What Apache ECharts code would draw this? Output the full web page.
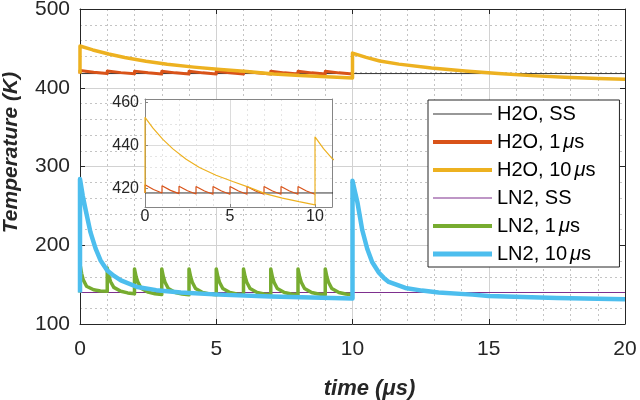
<!DOCTYPE html>
<html><head><meta charset="utf-8">
<script src="https://cdn.jsdelivr.net/npm/echarts@6/dist/echarts.min.js"></script>
<style>html,body{margin:0;padding:0;background:#fff}#c{width:640px;height:400px}</style>
</head><body><div id="c"></div>
<script>
// ---- tick labels ----
const mainXTicks = [0, 5, 10, 15, 20];
const mainYTicks = [100, 200, 300, 400, 500];
const insetXTicks = [0, 5, 10];
const insetYTicks = [420, 440, 460];
const insetXRange = [0, 11];
const insetYRange = [411.5, 461.5];
const insetYMinor = [415, 425, 430, 435, 445, 450, 455];

// ---- series names ----
const names = ['H2O, SS', 'H2O, 1μs', 'H2O, 10μs', 'LN2, SS', 'LN2, 1μs', 'LN2, 10μs'];

// ---- series values (time in μs, temperature in K) ----
const h2oSS_t = [0, 20];
const h2oSS_T = [418, 418];

const h2o1_t = [0,0,0.5,1, 1,1.5,2, 2,2.5,3, 3,3.5,4, 4,4.5,5, 5,5.5,6, 6,6.5,7, 7,7.5,8, 8,8.5,9, 9,9.5,10];
const h2o1_T = [418,421.8,419.6,418, 421.3,419.2,417.7, 421.1,419,417.5, 421,418.9,417.4, 421,418.9,417.4, 421,418.9,417.4, 421,418.9,417.4, 421,418.9,417.4, 421,418.9,417.4, 421,418.9,417.4];

const h2o10_t = [0,0,0.47,1.05,1.64,2.42,3.2,4.18,5.16,6.13,7.11,8.08,9.06,10, 10,10.5,11,11.7,12.9,14.13,15.35,16.56,17.8,19,20];
const h2o10_T = [418,453,448,442.8,438.4,433.6,429.8,426.2,423.3,420.6,417.6,415.6,414,412.5, 444,438.5,434,430,425,421.3,418,415.4,413.3,411.6,410.8];

const ln2SS_t = [0, 20];
const ln2SS_T = [140, 140];

const ln21_t = [0,0,0.06,0.12,0.24,0.5,0.75,1,
  1,1.06,1.12,1.24,1.5,1.75,2,
  2,2.06,2.12,2.24,2.5,2.75,3,
  3,3.06,3.12,3.24,3.5,3.75,4,
  4,4.06,4.12,4.24,4.5,4.75,5,
  5,5.06,5.12,5.24,5.5,5.75,6,
  6,6.06,6.12,6.24,6.5,6.75,7,
  7,7.06,7.12,7.24,7.5,7.75,8,
  8,8.06,8.12,8.24,8.5,8.75,9,
  9,9.06,9.12,9.24,9.5,9.75,10];
const ln21_T = [140,176,164,156,148,143.5,142,141.5,
  171,161,154,146.5,141.5,139.5,138.5,
  170,160,153.5,145.5,140.5,138.5,137.5,
  170,160,153,145,140,138,137,
  170,160,153,145,140,138,137,
  170,160,153,145,140,138,137,
  170,160,153,145,140,138,137,
  170,160,153,145,140,138,137,
  170,160,153,145,140,138,137,
  170,160,153,145,140,138,137];

const ln210_t = [0,0,0.1,0.2,0.38,0.57,0.75,1,1.25,1.5,2.1,2.8,3.7,5.1,7,10,
  10,10.09,10.18,10.36,10.54,10.72,10.97,11.15,11.33,11.94,12.55,13.16,14.4,15,17.5,20];
const ln210_T = [140,284,263,246,217,196,181,168,161,155.5,147,143,140,137.3,135,132.5,
  282,268,254.6,219,195.6,178.7,165,158.5,153.4,145.8,142.4,140,137.3,135.7,133,131.5];

// ---- build ----
const zip = (a, b) => a.map((v, i) => [v, b[i]]);
const FONT = "'Liberation Sans', Arial, Helvetica, sans-serif";
const AX = '#262626';
const colors = ['#333333', '#D95319', '#EDB120', '#7E2F8E', '#77AC30', '#4DBEEE'];
const widths = [1, 3, 3.5, 1, 3.5, 4.5];
const legendThick = [1, 4, 4, 1, 4, 5];
const mainData = [zip(h2oSS_t, h2oSS_T), zip(h2o1_t, h2o1_T), zip(h2o10_t, h2o10_T),
                  zip(ln2SS_t, ln2SS_T), zip(ln21_t, ln21_T), zip(ln210_t, ln210_T)];

const mainSeries = names.map((n, i) => ({
  name: n, type: 'line', xAxisIndex: 0, yAxisIndex: 0,
  data: mainData[i], symbol: 'none', showSymbol: false,
  lineStyle: { color: colors[i], width: widths[i], join: 'round' }, itemStyle: { color: colors[i] },
  z: 2 + i * 0.01, animation: false
}));
const insetSeries = [0, 1, 2].map(i => ({
  name: 'inset ' + names[i], type: 'line', xAxisIndex: 2, yAxisIndex: 2,
  data: mainData[i], symbol: 'none', showSymbol: false, clip: true,
  lineStyle: { color: colors[i], width: i === 0 ? 1 : 1.2 },
  z: 12, animation: false
}));

const GRID = '#d2d2d2', MINOR = '#c4c4c4';
const mainStep = (a) => a[1] - a[0];
const option = {
  animation: false,
  backgroundColor: '#fff',
  textStyle: { fontFamily: FONT },
  grid: [
    { left: 80, top: 9, width: 545, height: 315, show: false, containLabel: false, outerBoundsMode: 'none' },
    { left: 145, top: 99, width: 187, height: 108, show: true, backgroundColor: '#fff', borderWidth: 0, z: 10, containLabel: false, outerBoundsMode: 'none' }
  ],
  xAxis: [
    { type: 'value', gridIndex: 0, min: mainXTicks[0], max: mainXTicks[mainXTicks.length-1], interval: mainStep(mainXTicks),
      name: 'time (μs)', nameLocation: 'middle', nameGap: 54,
      nameTextStyle: { fontSize: 22, fontWeight: 'bold', fontStyle: 'italic', color: AX, fontFamily: FONT, padding: [0, 0, 0, 34] },
      axisLine: { show: true, onZero: false, lineStyle: { color: AX, width: 1 } },
      axisTick: { show: true, inside: true, length: 5, lineStyle: { color: AX } },
      axisLabel: { fontSize: 21, color: AX, margin: 15, fontFamily: FONT },
      splitLine: { show: true, showMinLine: false, showMaxLine: false, lineStyle: { color: GRID, width: 1 } },
      minorTick: { show: false, splitNumber: 5 },
      minorSplitLine: { show: true, lineStyle: { color: MINOR, width: 1, type: [2, 3] } },
      z: 0 },
    { type: 'value', gridIndex: 0, position: 'top', min: mainXTicks[0], max: mainXTicks[mainXTicks.length-1], interval: mainStep(mainXTicks),
      axisLine: { show: true, onZero: false, lineStyle: { color: AX, width: 1 } },
      axisTick: { show: true, inside: true, length: 5, lineStyle: { color: AX } },
      axisLabel: { show: false }, splitLine: { show: false }, z: 1 },
    { type: 'value', gridIndex: 1, min: insetXRange[0], max: insetXRange[1],
      axisLine: { show: true, onZero: false, lineStyle: { color: '#858585', width: 1 } },
      axisTick: { show: true, inside: true, length: 3, customValues: insetXTicks, lineStyle: { color: '#858585' } },
      axisLabel: { fontSize: 16, color: AX, margin: 2, customValues: insetXTicks, fontFamily: FONT },
      splitLine: { show: true, showMinLine: false, showMaxLine: false, lineStyle: { color: '#dcdcdc', width: 1 } },
      z: 11 },
    { type: 'value', gridIndex: 1, position: 'top', min: insetXRange[0], max: insetXRange[1],
      axisLine: { show: true, onZero: false, lineStyle: { color: '#858585', width: 1 } },
      axisTick: { show: false }, axisLabel: { show: false }, splitLine: { show: false }, z: 11 },
    { type: 'value', gridIndex: 1, min: insetXRange[0], max: insetXRange[1], interval: 1, show: true,
      axisLine: { show: false }, axisTick: { show: false }, axisLabel: { show: false },
      splitLine: { show: true, showMinLine: false, showMaxLine: false, lineStyle: { color: '#e4e4e4', width: 1, type: [2, 3] } },
      z: 10.5 }
  ],
  yAxis: [
    { type: 'value', gridIndex: 0, min: mainYTicks[0], max: mainYTicks[mainYTicks.length-1], interval: mainStep(mainYTicks),
      name: 'Temperature (K)', nameLocation: 'middle', nameGap: 58,
      nameTextStyle: { fontSize: 21, fontWeight: 'bold', fontStyle: 'italic', color: AX, fontFamily: FONT, padding: [0, 0, 0, 28] },
      axisLine: { show: true, onZero: false, lineStyle: { color: AX, width: 1 } },
      axisTick: { show: true, inside: true, length: 5, lineStyle: { color: AX } },
      axisLabel: { fontSize: 21, color: AX, margin: 10, fontFamily: FONT },
      splitLine: { show: true, showMinLine: false, showMaxLine: false, lineStyle: { color: GRID, width: 1 } },
      minorTick: { show: false, splitNumber: 5 },
      minorSplitLine: { show: true, lineStyle: { color: MINOR, width: 1, type: [2, 3] } },
      z: 0 },
    { type: 'value', gridIndex: 0, position: 'right', min: mainYTicks[0], max: mainYTicks[mainYTicks.length-1], interval: mainStep(mainYTicks),
      axisLine: { show: true, onZero: false, lineStyle: { color: AX, width: 1 } },
      axisTick: { show: true, inside: true, length: 5, lineStyle: { color: AX } },
      axisLabel: { show: false }, splitLine: { show: false }, z: 1 },
    { type: 'value', gridIndex: 1, min: insetYRange[0], max: insetYRange[1],
      axisLine: { show: true, onZero: false, lineStyle: { color: '#858585', width: 1 } },
      axisTick: { show: true, inside: true, length: 3, customValues: insetYTicks, lineStyle: { color: '#858585' } },
      axisLabel: { fontSize: 16, color: AX, margin: 6, customValues: insetYTicks, fontFamily: FONT },
      splitLine: { show: true, showMinLine: false, showMaxLine: false, lineStyle: { color: '#dcdcdc', width: 1 } },
      z: 11 },
    { type: 'value', gridIndex: 1, position: 'right', min: insetYRange[0], max: insetYRange[1],
      axisLine: { show: true, onZero: false, lineStyle: { color: '#858585', width: 1 } },
      axisTick: { show: false }, axisLabel: { show: false }, splitLine: { show: false }, z: 11 },
    { type: 'value', gridIndex: 1, position: 'right', offset: 0, min: insetYRange[0], max: insetYRange[1],
      axisLine: { show: false }, axisTick: { show: false, customValues: insetYMinor },
      axisLabel: { show: false, customValues: insetYMinor },
      splitLine: { show: true, showMinLine: false, showMaxLine: false, lineStyle: { color: '#e4e4e4', width: 1, type: [2, 3] } },
      z: 10.5 }
  ],
  legend: {
    data: names.map((n, i) => ({ name: n, icon: 'path://M0,0H59V' + legendThick[i] + 'H0Z', itemStyle: { color: colors[i] } })),
    orient: 'vertical', left: 428, top: 100,
    padding: [4, 24, 3, 5], itemGap: 8, itemWidth: 59, itemHeight: 14,
    backgroundColor: '#fff', borderColor: AX, borderWidth: 1, borderRadius: 0,
    textStyle: { fontSize: 20, color: '#000', lineHeight: 20, fontFamily: FONT,
      rich: { m: { fontSize: 20, fontStyle: 'italic', color: '#000', fontFamily: FONT, padding: [0, 0, 0, 3] } } },
    formatter: (n) => n.replace('μ', '{m|μ}'),
    z: 20, selectedMode: false
  },
  series: mainSeries.concat(insetSeries)
};
const chart = echarts.init(document.getElementById('c'), null, { renderer: 'canvas' });
chart.setOption(option);
</script></body></html>
